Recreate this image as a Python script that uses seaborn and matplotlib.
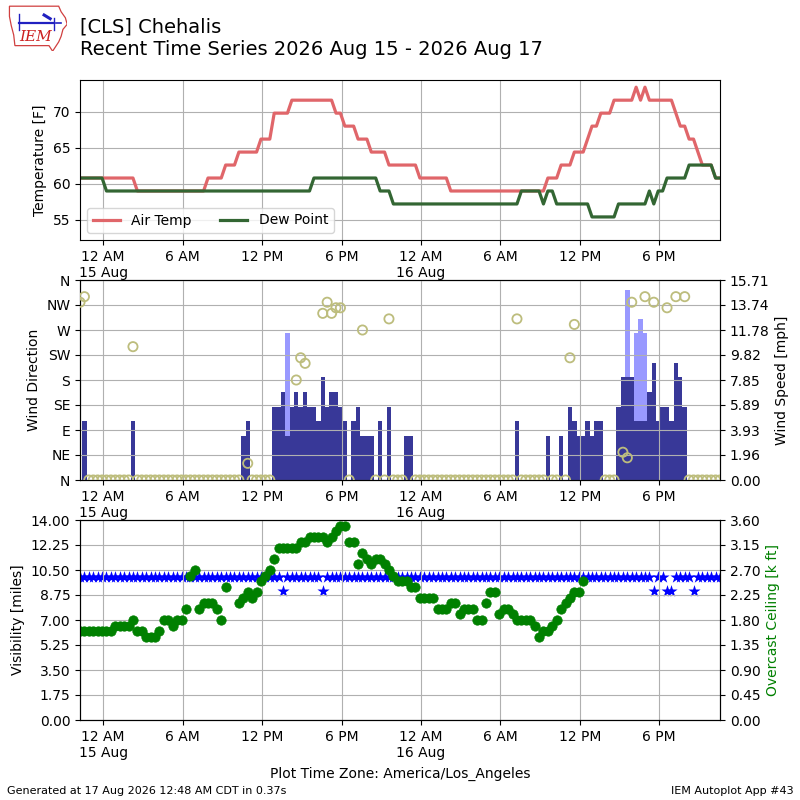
import numpy as np
import pandas as pd
import matplotlib
matplotlib.use("Agg")
import matplotlib.pyplot as plt
import matplotlib.dates as mdates
from matplotlib.ticker import FuncFormatter, FormatStrFormatter
import seaborn as sns

# CLS observations, one every 20 minutes, local time (America/Los_Angeles)
first_ob = "2026-08-14 22:15"

# air temperature [F]
tmpf = [
    60.8, 60.8, 60.8, 60.8, 60.8, 60.8, 60.8, 60.8, 60.8, 60.8, 60.8, 60.8,
    60.8, 59.0, 59.0, 59.0, 59.0, 59.0, 59.0, 59.0, 59.0, 59.0, 59.0, 59.0,
    59.0, 59.0, 59.0, 59.0, 59.0, 60.8, 60.8, 60.8, 60.8, 62.6, 62.6, 62.6,
    64.4, 64.4, 64.4, 64.4, 64.4, 66.2, 66.2, 66.2, 69.8, 69.8, 69.8, 69.8,
    71.6, 71.6, 71.6, 71.6, 71.6, 71.6, 71.6, 71.6, 71.6, 71.6, 69.8, 69.8,
    68.0, 68.0, 68.0, 66.2, 66.2, 66.2, 64.4, 64.4, 64.4, 64.4, 62.6, 62.6,
    62.6, 62.6, 62.6, 62.6, 62.6, 60.8, 60.8, 60.8, 60.8, 60.8, 60.8, 60.8,
    59.0, 59.0, 59.0, 59.0, 59.0, 59.0, 59.0, 59.0, 59.0, 59.0, 59.0, 59.0,
    59.0, 59.0, 59.0, 59.0, 59.0, 59.0, 59.0, 59.0, 59.0, 59.0, 60.8, 60.8,
    60.8, 62.6, 62.6, 62.6, 64.4, 64.4, 64.4, 66.2, 68.0, 68.0, 69.8, 69.8,
    69.8, 71.6, 71.6, 71.6, 71.6, 71.6, 73.4, 71.6, 73.4, 71.6, 71.6, 71.6,
    71.6, 71.6, 71.6, 69.8, 68.0, 68.0, 66.2, 66.2, 64.4, 62.6, 62.6, 62.6,
    60.8, 60.8,
]

# dew point [F]
dwpf = [
    60.8, 60.8, 60.8, 60.8, 60.8, 60.8, 59.0, 59.0, 59.0, 59.0, 59.0, 59.0,
    59.0, 59.0, 59.0, 59.0, 59.0, 59.0, 59.0, 59.0, 59.0, 59.0, 59.0, 59.0,
    59.0, 59.0, 59.0, 59.0, 59.0, 59.0, 59.0, 59.0, 59.0, 59.0, 59.0, 59.0,
    59.0, 59.0, 59.0, 59.0, 59.0, 59.0, 59.0, 59.0, 59.0, 59.0, 59.0, 59.0,
    59.0, 59.0, 59.0, 59.0, 59.0, 60.8, 60.8, 60.8, 60.8, 60.8, 60.8, 60.8,
    60.8, 60.8, 60.8, 60.8, 60.8, 60.8, 60.8, 60.8, 59.0, 59.0, 59.0, 57.2,
    57.2, 57.2, 57.2, 57.2, 57.2, 57.2, 57.2, 57.2, 57.2, 57.2, 57.2, 57.2,
    57.2, 57.2, 57.2, 57.2, 57.2, 57.2, 57.2, 57.2, 57.2, 57.2, 57.2, 57.2,
    57.2, 57.2, 57.2, 57.2, 59.0, 59.0, 59.0, 59.0, 59.0, 57.2, 59.0, 59.0,
    57.2, 57.2, 57.2, 57.2, 57.2, 57.2, 57.2, 57.2, 55.4, 55.4, 55.4, 55.4,
    55.4, 55.4, 57.2, 57.2, 57.2, 57.2, 57.2, 57.2, 57.2, 59.0, 57.2, 59.0,
    59.0, 60.8, 60.8, 60.8, 60.8, 60.8, 62.6, 62.6, 62.6, 62.6, 62.6, 62.6,
    60.8, 60.8,
]

# wind speed [kt]
sknt = [
    0, 4, 0, 0, 0, 0, 0, 0, 0, 0, 0, 0,
    4, 0, 0, 0, 0, 0, 0, 0, 0, 0, 0, 0,
    0, 0, 0, 0, 0, 0, 0, 0, 0, 0, 0, 0,
    0, 3, 4, 0, 0, 0, 0, 0, 5, 5, 6, 3,
    5, 6, 5, 6, 5, 5, 4, 7, 5, 6, 6, 5,
    4, 0, 4, 5, 3, 3, 3, 0, 4, 0, 5, 0,
    0, 0, 3, 3, 0, 0, 0, 0, 0, 0, 0, 0,
    0, 0, 0, 0, 0, 0, 0, 0, 0, 0, 0, 0,
    0, 0, 0, 4, 0, 0, 0, 0, 0, 0, 3, 0,
    0, 3, 0, 5, 4, 3, 3, 4, 3, 4, 4, 0,
    0, 0, 5, 7, 7, 7, 4, 4, 4, 6, 8, 4,
    5, 5, 4, 8, 7, 5, 0, 0, 0, 0, 0, 0,
    0, 0,
]

# gusts [kt]: observation number and value
gust_ob = [47, 124, 126, 127, 128]
gust_kt = [10, 13, 10, 11, 10]

# wind direction [deg], None = variable / missing
drct = [
    320, 330, 0, 0, 0, 0, 0, 0, 0, 0, 0, 0,
    240, 0, 0, 0, 0, 0, 0, 0, 0, 0, 0, 0,
    0, 0, 0, 0, 0, 0, 0, 0, 0, 0, 0, 0,
    0, None, 30, 0, 0, 0, 0, 0, None, None, None, None,
    None, 180, 220, 210, None, None, None, 300, 320, 300, 310, 310,
    None, 0, None, None, 270, None, None, 0, None, 0, 290, 0,
    0, 0, None, None, 0, 0, 0, 0, 0, 0, 0, 0,
    0, 0, 0, 0, 0, 0, 0, 0, 0, 0, 0, 0,
    0, 0, 0, 290, 0, 0, 0, 0, 0, 0, None, 0,
    0, None, 0, 220, 280, None, None, None, None, None, None, 0,
    0, 0, None, 50, 40, 320, None, None, 330, None, 320, None,
    None, 310, None, 330, None, 330, 0, 0, 0, 0, 0, 0,
    0, 0,
]

# visibility [miles]
vsby = [
    10, 10, 10, 10, 10, 10, 10, 10, 10, 10, 10, 10,
    10, 10, 10, 10, 10, 10, 10, 10, 10, 10, 10, 10,
    10, 10, 10, 10, 10, 10, 10, 10, 10, 10, 10, 10,
    10, 10, 10, 10, 10, 10, 10, 10, 10, 10, 9, 10,
    10, 10, 10, 10, 10, 10, 10, 9, 10, 10, 10, 10,
    10, 10, 10, 10, 10, 10, 10, 10, 10, 10, 10, 10,
    10, 10, 10, 10, 10, 10, 10, 10, 10, 10, 10, 10,
    10, 10, 10, 10, 10, 10, 10, 10, 10, 10, 10, 10,
    10, 10, 10, 10, 10, 10, 10, 10, 10, 10, 10, 10,
    10, 10, 10, 10, 10, 10, 10, 10, 10, 10, 10, 10,
    10, 10, 10, 10, 10, 10, 10, 10, 10, 10, 9, 10,
    10, 9, 9, 10, 10, 10, 10, 9, 10, 10, 10, 10,
    10, 10,
]

# overcast ceiling [k ft], None = no overcast layer
ceiling = [
    1.6, 1.6, 1.6, 1.6, 1.6, 1.6, 1.6, 1.6, 1.7, 1.7, 1.7, 1.7,
    1.8, 1.6, 1.6, 1.5, 1.5, 1.5, 1.6, 1.8, 1.8, 1.7, 1.8, 1.8,
    2.0, 2.6, 2.7, 2.0, 2.1, 2.1, 2.1, 2.0, 1.8, 2.4, None, None,
    2.1, 2.2, 2.3, 2.2, 2.3, 2.5, 2.6, 2.7, 2.9, 3.1, 3.1, 3.1,
    3.1, 3.1, 3.2, 3.2, 3.3, 3.3, 3.3, 3.3, 3.2, 3.3, 3.4, 3.5,
    3.5, 3.2, 3.2, 2.8, 3.0, 2.9, 2.8, 2.9, 2.9, 2.8, 2.7, 2.6,
    2.5, 2.5, 2.5, 2.4, 2.4, 2.2, 2.2, 2.2, 2.2, 2.0, 2.0, 2.0,
    2.1, 2.1, 1.9, 2.0, 2.0, 2.0, 1.8, 1.8, 2.1, 2.3, 2.3, 1.9,
    2.0, 2.0, 1.9, 1.8, 1.8, 1.8, 1.8, 1.7, 1.5, 1.6, 1.6, 1.7,
    1.8, 2.0, 2.1, 2.2, 2.3, 2.3, 2.5, None, None, None, None, None,
    None, None, None, None, None, None, None, None, None, None, None, None,
    None, None, None, None, None, None, None, None, None, None, None, None,
    None, None,
]

KT2MPH = 1.15078

times = pd.date_range(first_ob, periods=len(tmpf), freq="20min")
df = pd.DataFrame({
    "valid": times,
    "tmpf": np.array(tmpf, dtype=float),
    "dwpf": np.array(dwpf, dtype=float),
    "smph": np.array(sknt, dtype=float) * KT2MPH,
    "drct": np.array(drct, dtype=float),
    "vsby": np.array(vsby, dtype=float),
    "ceil": np.array(ceiling, dtype=float),
})
gust_mph = np.array(gust_kt, dtype=float) * KT2MPH
gust_times = times[gust_ob]


def fmt_time(x, pos=None):
    dt = mdates.num2date(x)
    label = dt.strftime("%I %p").lstrip("0")
    if dt.hour == 0:
        label += "\n" + dt.strftime("%d %b")
    return label


def time_axis(ax):
    ax.set_xlim(times[0], times[-1])
    ax.xaxis.set_major_locator(mdates.HourLocator(byhour=[0, 6, 12, 18]))
    ax.xaxis.set_major_formatter(FuncFormatter(fmt_time))
    ax.set_xlabel("")
    ax.grid(True)


fig = plt.figure(figsize=(8, 8), dpi=100)

# --- temperature panel
ax1 = fig.add_axes([0.1, 0.7, 0.8, 0.2])
sns.lineplot(data=df, x="valid", y="tmpf", ax=ax1, color="#e0666a", lw=2.3, label="Air Temp")
sns.lineplot(data=df, x="valid", y="dwpf", ax=ax1, color="#336633", lw=2.3, label="Dew Point")
ax1.set_ylim(52.2, 74.4)
ax1.set_ylabel("Temperature [F]")
ax1.legend(loc="lower left", ncol=2)
time_axis(ax1)

# --- wind panel
ax2 = fig.add_axes([0.1, 0.4, 0.8, 0.25])
ax2r = ax2.twinx()
ax2r.bar(gust_times, gust_mph, width=1 / 72.0, color="#9999ff")
ax2r.bar(df["valid"], df["smph"], width=1 / 72.0, color="#383898")
ax2r.set_ylim(0, gust_mph.max() * 1.05)
ax2r.set_yticks(np.linspace(0, gust_mph.max() * 1.05, 9))
ax2r.yaxis.set_major_formatter(FormatStrFormatter("%.2f"))
ax2r.set_ylabel("Wind Speed [mph]")
ax2.set_zorder(ax2r.get_zorder() + 1)
ax2.patch.set_visible(False)
sns.scatterplot(data=df, x="valid", y="drct", ax=ax2, marker="o", s=44,
                facecolors="none", edgecolor="#bdbd7d", linewidth=1.3, zorder=3)
ax2.set_ylim(0, 360)
ax2.set_yticks(range(0, 361, 45))
ax2.set_yticklabels(["N", "NE", "E", "SE", "S", "SW", "W", "NW", "N"])
ax2.set_ylabel("Wind Direction")
time_axis(ax2)

# --- visibility / ceiling panel
ax3 = fig.add_axes([0.1, 0.1, 0.8, 0.25])
sns.scatterplot(data=df, x="valid", y="vsby", ax=ax3, marker="*", s=85,
                color="blue", linewidth=0)
ax3.set_ylim(0, 14)
ax3.set_yticks(np.linspace(0, 14, 9))
ax3.yaxis.set_major_formatter(FormatStrFormatter("%.2f"))
ax3.set_ylabel("Visibility [miles]")
time_axis(ax3)
ax3r = ax3.twinx()
sns.scatterplot(data=df, x="valid", y="ceil", ax=ax3r, marker="o", s=46,
                color="green", edgecolor="green", linewidth=0.5)
ax3r.set_ylim(0, 3.6)
ax3r.set_yticks(np.linspace(0, 3.6, 9))
ax3r.yaxis.set_major_formatter(FormatStrFormatter("%.2f"))
ax3r.set_ylabel("Overcast Ceiling [k ft]", color="green")
ax3r.set_xlim(times[0], times[-1])

# --- titles and footer
fig.text(0.1, 0.978, "[CLS] Chehalis\nRecent Time Series 2026 Aug 15 - 2026 Aug 17",
         fontsize=14, va="top", ha="left", linespacing=1.25)
fig.text(0.5, 0.032, "Plot Time Zone: America/Los_Angeles", ha="center", va="center", fontsize=10)
fig.text(0.009, 0.008, "Generated at 17 Aug 2026 12:48 AM CDT in 0.37s", fontsize=8)
fig.text(0.992, 0.008, "IEM Autoplot App #43", fontsize=8, ha="right")

# --- IEM logo (simplified)
logo = fig.add_axes([0.008, 0.936, 0.076, 0.058])
logo.set_xlim(0, 1)
logo.set_ylim(0, 1)
logo.axis("off")
outline = [(0.05, 0.97), (0.86, 0.97), (0.9, 0.85), (0.97, 0.72), (1.0, 0.58),
           (0.93, 0.47), (0.9, 0.32), (0.86, 0.2), (0.8, 0.08), (0.76, 0.0),
           (0.7, 0.12), (0.14, 0.12), (0.12, 0.35), (0.08, 0.55), (0.05, 0.75)]
logo.add_patch(plt.Polygon(outline, closed=True, fill=False, ec="#d04040", lw=0.9))
logo.text(0.48, 0.3, "IEM", color="#cc2020", fontsize=11, style="italic",
          family="DejaVu Serif", ha="center", va="center")
logo.plot([0.2, 0.78], [0.6, 0.6], color="#2020c0", lw=1.6)
logo.plot([0.2, 0.2], [0.45, 0.8], color="#2020c0", lw=1.0)
logo.plot([0.78, 0.78], [0.45, 0.72], color="#2020c0", lw=1.0)
logo.plot([0.62, 0.72], [0.78, 0.7], color="#2020c0", lw=2.2)
logo.plot([0.82, 0.9], [0.6, 0.6], color="#2020c0", lw=1.2)

fig.savefig("out.png", dpi=100)
